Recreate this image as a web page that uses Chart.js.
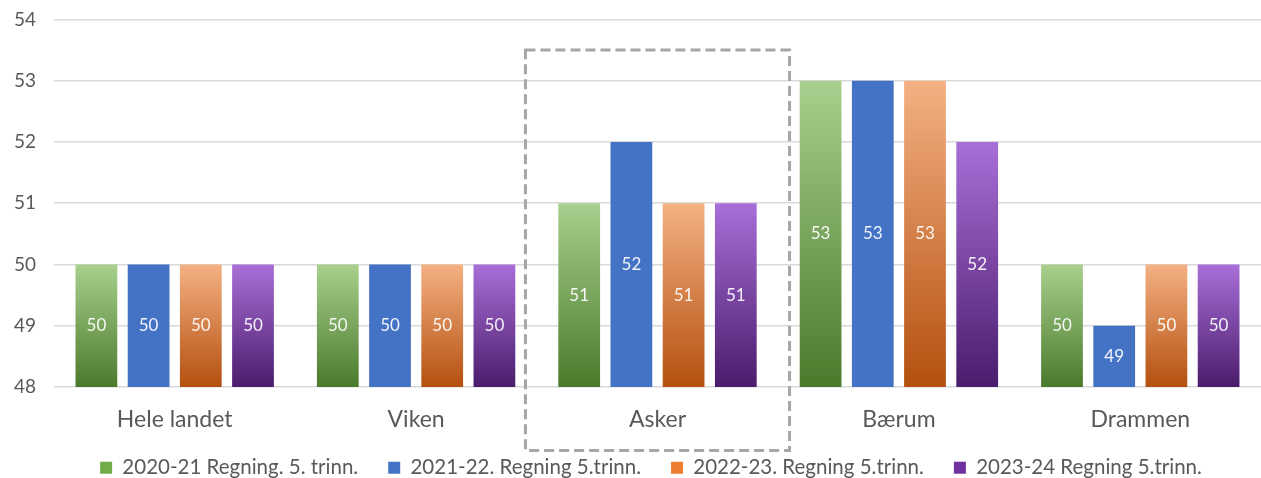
<!DOCTYPE html>
<html>
<head>
<meta charset="utf-8">
<script src="https://cdn.jsdelivr.net/npm/chart.js@4"></script>
<style>
  html, body { margin: 0; padding: 0; background: #fff; }
  #wrap { width: 1261px; height: 478px; }
</style>
</head>
<body>
<div id="wrap"><canvas id="scoreChart"></canvas></div>
<script>
const categories = ["Hele landet", "Viken", "Asker", "Bærum", "Drammen"];
const seriesNames = [
    "2020-21 Regning. 5. trinn.",
    "2021-22. Regning 5.trinn.",
    "2022-23. Regning 5.trinn.",
    "2023-24 Regning 5.trinn."
];
const values2020 = [50, 50, 51, 53, 50];
const values2021 = [50, 50, 52, 53, 49];
const values2022 = [50, 50, 51, 53, 50];
const values2023 = [50, 50, 51, 52, 50];
const yTicks = [48, 49, 50, 51, 52, 53, 54];
const highlighted = "Asker";

// top / bottom colour of each series gradient, plus legend colour
const palette = [
    { top: "#a9d08e", bottom: "#4a7a2c", solid: "#70ad47" },
    { top: "#4472c4", bottom: "#4472c4", solid: "#4472c4" },
    { top: "#f4b183", bottom: "#b4500f", solid: "#ed7d31" },
    { top: "#a86fd8", bottom: "#4b1c6c", solid: "#7030a0" }
];

const fontFamily = "Lato, 'Open Sans', sans-serif";
const textColor = "#595959";

function barGradient(idx) {
    return function (context) {
        const chart = context.chart;
        if (!chart.chartArea || context.raw === undefined) return palette[idx].solid;
        const y = chart.scales.y;
        const top = y.getPixelForValue(context.raw);
        const g = chart.ctx.createLinearGradient(0, top, 0, y.bottom);
        g.addColorStop(0, palette[idx].top);
        g.addColorStop(1, palette[idx].bottom);
        return g;
    };
}

const allValues = [values2020, values2021, values2022, values2023];

// white value labels in the middle of each bar
const barLabels = {
    id: "barLabels",
    afterDraw(chart) {
        const c = chart.ctx;
        const y = chart.scales.y;
        c.save();
        c.font = "17px " + fontFamily;
        c.fillStyle = "rgba(255,255,255,0.92)";
        c.textAlign = "center";
        c.textBaseline = "middle";
        chart.data.datasets.forEach((ds, i) => {
            const meta = chart.getDatasetMeta(i);
            meta.data.forEach((bar, j) => {
                const top = y.getPixelForValue(ds.data[j]);
                c.fillText(String(ds.data[j]), bar.x, (top + y.bottom) / 2);
            });
        });
        c.restore();
    }
};

// dashed frame around the highlighted municipality
const highlightBox = {
    id: "highlightBox",
    afterDraw(chart) {
        const x = chart.scales.x;
        const y = chart.scales.y;
        const i = categories.indexOf(highlighted);
        const step = x.getPixelForValue(1) - x.getPixelForValue(0);
        const cx = x.getPixelForValue(i);
        const top = y.getPixelForValue(53.5);
        const c = chart.ctx;
        c.save();
        c.strokeStyle = "#a6a6a6";
        c.lineWidth = 3;
        c.setLineDash([10, 5]);
        c.strokeRect(cx - step * 0.547, top, step * 1.094, x.bottom + 6 - top);
        c.restore();
    }
};

// legend padding also sets the row height; keep the wide item gaps but tighten it vertically
const legendTrim = {
    id: "legendTrim",
    beforeUpdate(chart) {
        const lg = chart.legend;
        if (!lg || lg._trimmed) return;
        lg._trimmed = true;
        const fit = lg.fit;
        lg.fit = function () { fit.call(this); this.height -= 17; };
        const draw = lg.draw;
        lg.draw = function () {
            this.top -= 17; this.left += 8; this.right += 8;
            draw.call(this);
            this.top += 17; this.left -= 8; this.right -= 8;
        };
    }
};

const ctx = document.getElementById("scoreChart").getContext("2d");
const scoreChart = new Chart(ctx, {
    type: "bar",
    data: {
        labels: categories,
        datasets: allValues.map((vals, i) => ({
            label: seriesNames[i],
            data: vals,
            backgroundColor: barGradient(i),
            borderWidth: 0,
            categoryPercentage: 0.865,
            barPercentage: 0.8
        }))
    },
    options: {
        responsive: true,
        maintainAspectRatio: false,
        animation: false,
        layout: { padding: { left: 14, right: -11, top: 0, bottom: -10 } },
        scales: {
            x: {
                afterFit: axis => { axis.paddingLeft = 0; axis.paddingRight = 0; },
                grid: { display: false },
                border: { display: false },
                ticks: {
                    color: textColor,
                    font: { family: fontFamily, size: 23 },
                    padding: 11
                }
            },
            y: {
                min: 48,
                max: 54,
                afterBuildTicks: axis => { axis.ticks = yTicks.map(v => ({ value: v })); },
                afterFit: axis => { axis.width = 40; },
                grid: { color: "#d9d9d9", lineWidth: 1.5, drawTicks: false },
                border: { display: false },
                ticks: {
                    color: textColor,
                    font: { family: fontFamily, size: 19 },
                    padding: 8,
                    crossAlign: "far"
                }
            }
        },
        plugins: {
            legend: {
                position: "bottom",
                labels: {
                    color: textColor,
                    font: { family: fontFamily, size: 20.5 },
                    boxWidth: 12,
                    boxHeight: 12,
                    padding: 30,
                    generateLabels: chart => chart.data.datasets.map((ds, i) => ({
                        text: ds.label,
                        fillStyle: palette[i].solid,
                        strokeStyle: palette[i].solid,
                        lineWidth: 0,
                        fontColor: textColor,
                        datasetIndex: i
                    }))
                }
            },
            tooltip: { enabled: false }
        }
    },
    plugins: [barLabels, highlightBox, legendTrim]
});
</script>
</body>
</html>
